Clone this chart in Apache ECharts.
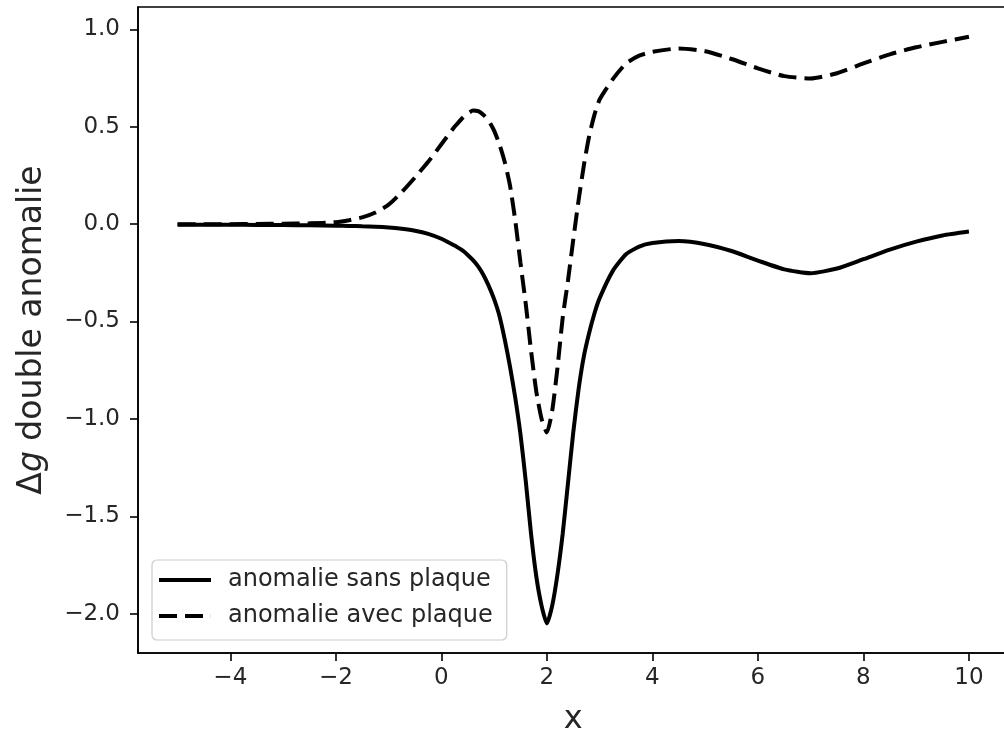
<!DOCTYPE html>
<html>
<head>
<meta charset="utf-8">
<script src="https://cdn.jsdelivr.net/npm/echarts@6/dist/echarts.min.js"></script>
<style>
html,body{margin:0;padding:0;background:#fff;}
#chart{width:1004px;height:735px;}
</style>
</head>
<body>
<div id="chart"></div>
<script>
// ---- data ----
const xValues = [-5, -4.5, -4, -3.5, -3, -2.5, -2, -1.75, -1.5, -1.25, -1, -0.75, -0.5, -0.25, 0, 0.25,
  0.3, 0.4, 0.5, 0.6, 0.7, 0.8, 0.9, 1.0, 1.1, 1.2, 1.3, 1.4, 1.5, 1.6, 1.7, 1.8, 1.9, 2.0,
  2.1, 2.2, 2.3, 2.4, 2.5, 2.6, 2.7, 2.8, 2.9, 3.0,
  3.25, 3.5, 3.75, 4, 4.5, 5, 5.5, 6, 6.5, 7, 7.5, 8, 8.5, 9, 9.5, 10];

const sansPlaque = [-0.003, -0.003, -0.003, -0.004, -0.005, -0.006, -0.008, -0.009, -0.011, -0.013, -0.017, -0.024, -0.034, -0.05, -0.075, -0.11,
  -0.118, -0.135, -0.158, -0.185, -0.218, -0.262, -0.318, -0.385, -0.47, -0.59, -0.73, -0.89, -1.08, -1.32, -1.59, -1.81, -1.96, -2.05,
  -1.96, -1.80, -1.59, -1.33, -1.07, -0.85, -0.68, -0.56, -0.46, -0.38,
  -0.24, -0.155, -0.115, -0.097, -0.087, -0.103, -0.138, -0.187, -0.232, -0.252, -0.228, -0.18, -0.131, -0.09, -0.058, -0.038];

const avecPlaque = [0.0, 0.0, 0.0, 0.001, 0.002, 0.004, 0.01, 0.02, 0.035, 0.06, 0.10, 0.165, 0.24, 0.32, 0.41, 0.50,
  0.515, 0.545, 0.568, 0.583, 0.58, 0.56, 0.53, 0.48, 0.41, 0.32, 0.20, 0.02, -0.20, -0.41, -0.65, -0.86, -1.0, -1.07,
  -0.96, -0.74, -0.48, -0.29, -0.08, 0.12, 0.30, 0.45, 0.56, 0.64,
  0.745, 0.825, 0.865, 0.885, 0.902, 0.888, 0.848, 0.80, 0.76, 0.748, 0.775, 0.825, 0.872, 0.908, 0.936, 0.962];

const seriesNames = ['anomalie sans plaque', 'anomalie avec plaque'];
const xTicks = [-4, -2, 0, 2, 4, 6, 8, 10];
const yTicks = [-2.0, -1.5, -1.0, -0.5, 0.0, 0.5, 1.0];
const xLabel = 'x';
const yLabel = '\u0394{i|g} double anomalie';

// ---- chart ----
const FONT = 'DejaVu Sans';
const minus = s => String(s).replace('-', '\u2212');
const pairs = ys => xValues.map((x, i) => [x, ys[i]]);
const solidIcon = 'path://M0,0H52V4H0Z';
const dashIcon = 'path://M0,0H18V4H0Z M26,0H44V4H26Z M51.9,0H52V4H51.9Z';

const chart = echarts.init(document.getElementById('chart'), null, {renderer: 'canvas'});
chart.setOption({
  animation: false,
  backgroundColor: '#ffffff',
  grid: {
    left: 138, top: 7, right: -4.5, bottom: 82,
    outerBoundsMode: 'none', containLabel: false,
    show: true, borderColor: '#000', borderWidth: 1.6, backgroundColor: 'transparent'
  },
  legend: {
    orient: 'vertical',
    left: 152, top: 560,
    data: [
      {name: seriesNames[0], icon: solidIcon},
      {name: seriesNames[1], icon: dashIcon}
    ],
    itemWidth: 52, itemHeight: 4, itemGap: 12,
    itemStyle: {color: '#000', borderWidth: 0},
    padding: [8, 14, 12, 7],
    backgroundColor: 'rgba(255,255,255,0.8)',
    borderColor: '#cccccc', borderWidth: 1.2, borderRadius: 5,
    textStyle: {fontFamily: FONT, fontSize: 24, color: '#262626', lineHeight: 24, padding: [0, 0, 0, 12]}
  },
  xAxis: {
    type: 'value', min: -5.75, max: 10.75,
    name: xLabel, nameLocation: 'middle', nameGap: 51,
    nameTextStyle: {fontFamily: FONT, fontSize: 32, color: '#262626'},
    axisLine: {show: true, onZero: false, lineStyle: {color: '#000', width: 1.6}},
    axisTick: {show: true, length: 8, lineStyle: {color: '#000', width: 1.6}, customValues: xTicks},
    axisLabel: {show: true, margin: 14, fontFamily: FONT, fontSize: 23, color: '#262626',
      customValues: xTicks, formatter: v => minus(v)},
    splitLine: {show: false}
  },
  yAxis: {
    type: 'value', min: -2.202, max: 1.115,
    name: yLabel, nameLocation: 'middle', nameGap: 89,
    nameTextStyle: {fontFamily: FONT, fontSize: 33, color: '#262626',
      rich: {i: {fontFamily: FONT, fontSize: 33, fontStyle: 'italic', color: '#262626'}}},
    axisLine: {show: true, onZero: false, lineStyle: {color: '#000', width: 1.6}},
    axisTick: {show: true, length: 8, lineStyle: {color: '#000', width: 1.6}, customValues: yTicks},
    axisLabel: {show: true, margin: 18, fontFamily: FONT, fontSize: 23, color: '#262626',
      customValues: yTicks, formatter: v => minus(Number(v).toFixed(1))},
    splitLine: {show: false}
  },
  series: [
    {
      name: seriesNames[0], type: 'line', data: pairs(sansPlaque),
      symbol: 'none', smooth: 0.2,
      lineStyle: {color: '#000', width: 4, type: 'solid'},
      itemStyle: {color: '#000'}
    },
    {
      name: seriesNames[1], type: 'line', data: pairs(avecPlaque),
      symbol: 'none', smooth: 0.2,
      lineStyle: {color: '#000', width: 4, type: [18, 8]},
      itemStyle: {color: '#000'}
    }
  ]
});
</script>
</body>
</html>
